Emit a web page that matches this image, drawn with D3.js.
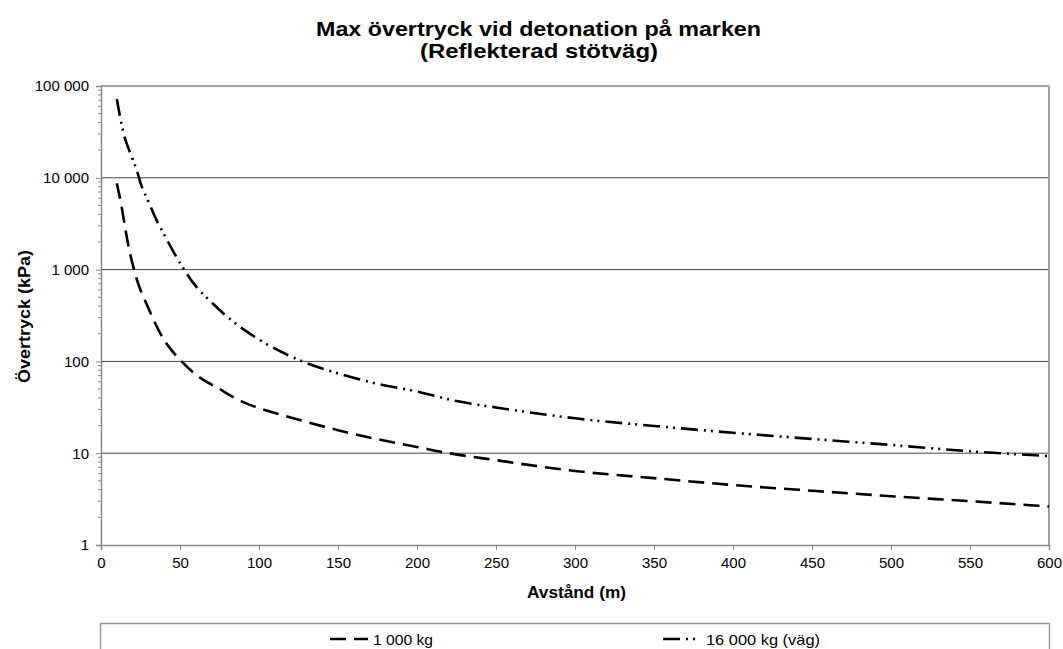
<!DOCTYPE html>
<html><head><meta charset="utf-8">
<script src="https://cdn.jsdelivr.net/npm/d3@7"></script>
<style>
body{margin:0;background:#fff;}
text{font-family:"Liberation Sans",Arial,sans-serif;}
</style></head>
<body>
<svg id="c" width="1063" height="649"></svg>
<script>
const titleLines = ["Max övertryck vid detonation på marken", "(Reflekterad stötväg)"];
const xLabel = "Avstånd (m)";
const yLabel = "Övertryck (kPa)";
const xTicks = [0,50,100,150,200,250,300,350,400,450,500,550,600];
const yTicks = [1,10,100,1000,10000,100000];
const seriesNames = ["1 000 kg", "16 000 kg (väg)"];
const dist1000 = [10,13,15,18,20,22,25,27,30,33,40,45,50,60,75,90,100,120,150,190,200,216,250,300,350,400,450,500,550,600];
const p1000    = [8700,4900,3050,1600,1150,850,600,500,380,290,170,130,104,72,50,36,31,24.5,17.8,12.6,11.7,10.3,8.4,6.4,5.35,4.5,3.9,3.4,3.0,2.63];
const dist16000 = [10,14,20,22.5,25,30,35,40,50,60,70,80,90,100,125,150,175,200,225,250,300,350,400,450,500,550,600];
const p16000    = [72000,32000,16000,12300,8800,5500,3500,2400,1180,660,440,305,225,173,104,74,57,47,37,31.5,24,19.8,16.7,14.3,12.3,10.5,9.3];

const svg = d3.select("#c");
const L=101, R=1049, T=86, B=545;
const x = d3.scaleLinear().domain([0,600]).range([L,R]);
const y = d3.scaleLog().domain([1,100000]).range([B,T]);
const loc = d3.formatLocale({decimal:",", thousands:"\u00a0", grouping:[3], currency:["",""]});
const fmt = loc.format(",d");

// title
svg.append("text").attr("x",538.5).attr("y",36).attr("text-anchor","middle")
  .attr("font-size",21).attr("font-weight","bold")
  .attr("textLength",445).attr("lengthAdjust","spacingAndGlyphs").text(titleLines[0]);
svg.append("text").attr("x",539).attr("y",58).attr("text-anchor","middle")
  .attr("font-size",21).attr("font-weight","bold")
  .attr("textLength",238).attr("lengthAdjust","spacingAndGlyphs").text(titleLines[1]);

// gridlines
svg.append("g").selectAll("line").data(yTicks.filter(d=>d>1)).join("line")
  .attr("x1",L).attr("x2",R).attr("y1",d=>y(d)).attr("y2",d=>y(d))
  .attr("stroke","#444").attr("stroke-width",1);
// right border
svg.append("line").attr("x1",R).attr("x2",R).attr("y1",T).attr("y2",B)
  .attr("stroke","#a0a0a0").attr("stroke-width",2);

// y axis
const yAx = d3.axisLeft(y).tickValues(yTicks).tickFormat(fmt).tickSize(5).tickPadding(7);
const gy = svg.append("g").attr("transform",`translate(${L},0)`).call(yAx);
gy.attr("font-size",15).style("font-size","15px");
gy.select(".domain").attr("stroke","#888").attr("stroke-width",1.5);
gy.selectAll(".tick line").attr("stroke","#888");
gy.selectAll(".tick text").style("font-size","15px").attr("fill","#000");
const minor = [];
for (let k=0;k<5;k++) for (let m=2;m<=9;m++) minor.push(m*Math.pow(10,k));
svg.append("g").selectAll("line").data(minor).join("line")
  .attr("x1",L-3).attr("x2",L).attr("y1",d=>y(d)).attr("y2",d=>y(d))
  .attr("stroke","#888").attr("stroke-width",1);

// x axis
const xAx = d3.axisBottom(x).tickValues(xTicks).tickFormat(fmt).tickSize(5).tickPadding(7);
const gx = svg.append("g").attr("transform",`translate(0,${B})`).call(xAx);
gx.attr("font-size",15).style("font-size","15px");
gx.select(".domain").attr("stroke","#888").attr("stroke-width",1.5);
gx.selectAll(".tick line").attr("stroke","#888");
gx.selectAll(".tick text").style("font-size","15px").attr("fill","#000");

// axis labels
svg.append("text").attr("x",576.5).attr("y",598).attr("text-anchor","middle")
  .attr("font-size",16).attr("font-weight","bold")
  .attr("textLength",99).attr("lengthAdjust","spacingAndGlyphs").text(xLabel);
svg.append("text").attr("transform",`translate(30,316.5) rotate(-90)`).attr("text-anchor","middle")
  .attr("font-size",17).attr("font-weight","bold")
  .attr("textLength",133).attr("lengthAdjust","spacingAndGlyphs").text(yLabel);

// lines
const line = d3.line().x(d=>x(d[0])).y(d=>y(d[1])).curve(d3.curveMonotoneX);
const dashA = "16,8", dashB = "17,6,2,5,2,6";
svg.append("path").datum(d3.zip(dist1000,p1000)).attr("d",line)
  .attr("fill","none").attr("stroke","#000").attr("stroke-width",2.6).attr("stroke-dasharray",dashA);
svg.append("path").datum(d3.zip(dist16000,p16000)).attr("d",line)
  .attr("fill","none").attr("stroke","#000").attr("stroke-width",2.6).attr("stroke-dasharray",dashB);

// legend
svg.append("rect").attr("x",100.5).attr("y",623.5).attr("width",949).attr("height",60)
  .attr("fill","none").attr("stroke","#999").attr("stroke-width",1.5);
const legX = [330,663];
const legW = [60,114];
const dashes = [dashA,dashB];
seriesNames.forEach((n,i)=>{
  svg.append("line").attr("x1",legX[i]).attr("x2",legX[i]+38).attr("y1",639).attr("y2",639)
    .attr("stroke","#000").attr("stroke-width",2.6).attr("stroke-dasharray",dashes[i]);
  svg.append("text").attr("x",legX[i]+43).attr("y",645).attr("font-size",15)
    .attr("textLength",legW[i]).attr("lengthAdjust","spacingAndGlyphs").text(n);
});
</script>
</body></html>
